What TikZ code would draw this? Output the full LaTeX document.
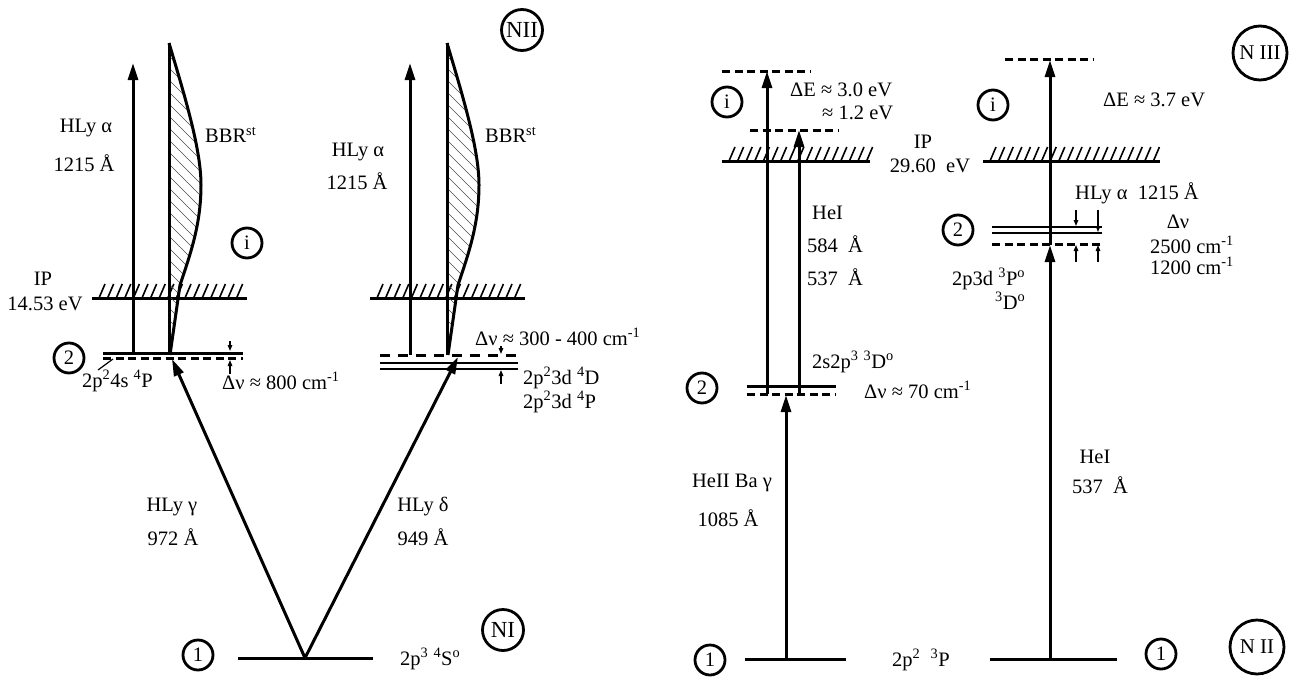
\documentclass[tikz,border=0pt]{standalone}
\usepackage{fontspec}
\setmainfont{Liberation Serif}
\usetikzlibrary{arrows.meta}
\newcommand\sps[1]{\textsuperscript{#1}}
\newcommand\hatchip[4]{%
  \draw[lvl] (#1,#3) -- (#2,#3);
  \foreach \i in {0,...,#4} \draw[line width=1.6pt] ({#1+7+8.6*\i},#3) -- ++(6,-14);
}
\newcommand\bbrpath[1]{(#1,43) .. controls ({#1+17},100) and ({#1+32},150) .. ({#1+32},185) .. controls ({#1+32},225) and ({#1+21},255) .. ({#1+11},285) -- ({#1+1},355) -- (#1,355) -- cycle}
\newcommand\bbr[1]{%
  \begin{scope}
    \clip \bbrpath{#1};
    \foreach \k in {0,...,36} \draw[line width=0.6pt, black!70] ({#1-20},{-60+12*\k}) -- ++(80,80);
  \end{scope}
  \draw[line width=3pt] (#1,43) -- (#1,355);
  \draw[line width=3pt,line join=round] (#1,43) .. controls ({#1+17},100) and ({#1+32},150) .. ({#1+32},185) .. controls ({#1+32},225) and ({#1+21},255) .. ({#1+11},285) -- ({#1+1},355);
}
\begin{document}
\begin{tikzpicture}[x=1pt,y=-1pt,
  every node/.style={font=\fontsize{20.5}{22}\selectfont, inner sep=0pt},
  lvl/.style={line width=3pt},
  dlvl/.style={line width=3pt, dash pattern=on 8pt off 4.5pt},
  arr/.style={line width=3pt, -{Triangle[length=17pt,width=10pt]}},
  sarr/.style={line width=1.3pt, -{Triangle[length=6pt,width=4.5pt]}},
  circ/.style={circle, draw, line width=2.8pt, minimum size=30pt, inner sep=0pt},
  bigc/.style={circle, draw, line width=2.8pt, minimum size=41pt, inner sep=0pt, font=\fontsize{23}{24}\selectfont},
  hugec/.style={circle, draw, line width=2.8pt, minimum size=54pt, inner sep=0pt, font=\fontsize{21}{22}\selectfont}]
\useasboundingbox[fill=white] (0,0) rectangle (1292,677);

% ================= Left panel (N I -> N II) =================
\coordinate (l1a) at (238,658); \coordinate (l1b) at (373,658); \coordinate (v) at (305,658);
\draw[lvl] (l1a) -- (l1b);
\node[circ] (c1L) at (198,655) {1};
\node[anchor=west] (t2p3) at (400,659) {2p\sps{3} \sps{4}S\sps{o}};
\node[bigc] (NI) at (503,630) {NI};

\coordinate (a2a) at (103,353); \coordinate (a2b) at (243,353);
\coordinate (a2c) at (103,358); \coordinate (a2d) at (243,358);
\draw[lvl] (a2a) -- (a2b);
\draw[dlvl] (a2c) -- (a2d);
\node[circ] (c2L) at (69,358) {2};
\node[anchor=west] (t24s) at (82,381) {2p\sps{2}4s \sps{4}P};
\coordinate (ldA) at (98,370); \coordinate (ldB) at (113,359);
\draw[line width=1.2pt] (ldA) -- (ldB);
\coordinate (sa1) at (230,341); \coordinate (sa1e) at (230,351);
\coordinate (sa2) at (230,374); \coordinate (sa2e) at (230,360);
\draw[sarr] (sa1) -- (sa1e);
\draw[sarr] (sa2) -- (sa2e);
\node[anchor=west] (dn800) at (222,381) {Δν ≈ 800 cm\sps{-1}};

\hatchip{92}{247}{298}{16}
\node (ipL) at (43,279) {IP};
\node (ipLv) at (45,304) {14.53 eV};

\coordinate (hA0) at (133,353); \coordinate (hA1) at (133,63);
\draw[arr] (hA0) -- (hA1);
\node (hlyaL) at (86,128) {HLy α};
\node (hlyaLw) at (84,163) {1215 Å};
\bbr{169}
\node[anchor=west] (bbrL) at (205,135) {BBR\sps{st}};
\node[circ] (ciL) at (247,243) {i};

\coordinate (gT) at (172,359);
\draw[arr] (v) -- (gT);
\node (hlyg) at (172,507) {HLy γ};
\node (hlygw) at (173,537) {972 Å};
\coordinate (dT) at (458,357);
\draw[arr] (v) -- (dT);
\node (hlyd) at (423,507) {HLy δ};
\node (hlydw) at (423,537) {949 Å};

% ================= Middle panel (N II) =================
\node[bigc] (NII) at (522,30) {NII};
\coordinate (m2a) at (380,355); \coordinate (m2b) at (518,355);
\coordinate (m2c) at (380,363); \coordinate (m2d) at (518,363);
\coordinate (m2e) at (380,369); \coordinate (m2f) at (518,369);
\draw[dlvl, dash pattern=on 10pt off 8pt] (m2a) -- (m2b);
\draw[line width=2.6pt] (m2c) -- (m2d);
\draw[line width=2.6pt] (m2e) -- (m2f);
\coordinate (mb1) at (501,346); \coordinate (mb1e) at (501,354);
\coordinate (mb2) at (501,384); \coordinate (mb2e) at (501,370);
\draw[sarr] (mb1) -- (mb1e);
\draw[sarr] (mb2) -- (mb2e);
\node[anchor=west] (dn300) at (475,337) {Δν ≈ 300 - 400 cm\sps{-1}};
\node[anchor=west] (t4D) at (523,378) {2p\sps{2}3d \sps{4}D};
\node[anchor=west] (t4P) at (523,402) {2p\sps{2}3d \sps{4}P};

\hatchip{370}{525}{298}{16}
\coordinate (hM0) at (410,355); \coordinate (hM1) at (410,63);
\draw[arr] (hM0) -- (hM1);
\node (hlyaM) at (358,152) {HLy α};
\node (hlyaMw) at (357,181) {1215 Å};
\bbr{447}
\node[anchor=west] (bbrM) at (485,135) {BBR\sps{st}};

% ================= Right-middle panel (N II -> N III) =================
\coordinate (r1a) at (745,659); \coordinate (r1b) at (846,659);
\draw[lvl] (r1a) -- (r1b);
\node[circ] (c1R) at (710,660) {1};
\node[anchor=west] (t2p2) at (892,660) {2p\sps{2}\ \ \sps{3}P};

\coordinate (r2a) at (747,386); \coordinate (r2b) at (836,386);
\coordinate (r2c) at (747,394); \coordinate (r2d) at (836,394);
\draw[lvl] (r2a) -- (r2b);
\draw[dlvl] (r2c) -- (r2d);
\node[circ] (c2R) at (702,388) {2};
\node[anchor=west] (t2s2p) at (812,362) {2s2p\sps{3} \sps{3}D\sps{o}};
\node[anchor=west] (dn70) at (864,390) {Δν ≈ 70 cm\sps{-1}};

\coordinate (hb0) at (786,659); \coordinate (hb1) at (786,395);
\draw[arr] (hb0) -- (hb1);
\node (heii) at (732,483) {HeII Ba γ};
\node (heiiw) at (728,518) {1085 Å};

\hatchip{722}{870}{161}{16}
\node (ipR) at (923,142) {IP};
\node (ipRv) at (930,166) {29.60\ \ eV};

\coordinate (rd1a) at (722,71); \coordinate (rd1b) at (810,71);
\draw[dlvl] (rd1a) -- (rd1b);
\coordinate (rd2a) at (750,130); \coordinate (rd2b) at (838,130);
\draw[dlvl] (rd2a) -- (rd2b);
\coordinate (x1a) at (767,394); \coordinate (x1b) at (767,71);
\draw[arr] (x1a) -- (x1b);
\coordinate (x2a) at (799,394); \coordinate (x2b) at (799,130);
\draw[arr] (x2a) -- (x2b);
\node[circ] (ciR) at (727,102) {i};
\node[anchor=west] (dE30) at (790,90) {ΔE ≈ 3.0 eV};
\node[anchor=west] (dE12) at (822,113) {≈ 1.2 eV};
\node[anchor=west] (hei1) at (812,213) {HeI};
\node[anchor=west] (w584) at (807,244) {584\ \ Å};
\node[anchor=west] (w537) at (807,277) {537\ \ Å};

% ================= Right panel (N III) =================
\coordinate (s1a) at (990,659); \coordinate (s1b) at (1117,659);
\draw[lvl] (s1a) -- (s1b);
\node[circ] (c1S) at (1161,654) {1};
\node[hugec] (NIIb) at (1257,647) {N II};
\node[hugec] (NIII) at (1260,53) {N III};

\coordinate (s2a) at (992,227); \coordinate (s2b) at (1102,227);
\coordinate (s2c) at (992,233); \coordinate (s2d) at (1102,233);
\coordinate (s2e) at (992,244); \coordinate (s2f) at (1102,244);
\draw[line width=2.8pt] (s2a) -- (s2b);
\draw[line width=2pt] (s2c) -- (s2d);
\draw[dlvl] (s2e) -- (s2f);
\node[circ] (c2S) at (958,230) {2};

\coordinate (sd1a) at (1005,60); \coordinate (sd1b) at (1093,60);
\draw[dlvl] (sd1a) -- (sd1b);
\hatchip{983}{1160}{161}{19}

\coordinate (y0) at (1050,659); \coordinate (y1) at (1050,245); \coordinate (y2) at (1050,60);
\draw[arr] (y0) -- (y1);
\draw[arr] (y1) -- (y2);

\coordinate (q1) at (1076,210); \coordinate (q1e) at (1076,226);
\coordinate (q2) at (1098,210); \coordinate (q2e) at (1098,232);
\coordinate (q3) at (1076,262); \coordinate (q3e) at (1076,245);
\coordinate (q4) at (1098,262); \coordinate (q4e) at (1098,245);
\draw[sarr] (q1) -- (q1e);
\draw[sarr] (q2) -- (q2e);
\draw[sarr] (q3) -- (q3e);
\draw[sarr] (q4) -- (q4e);

\node[circ] (ciS) at (993,105) {i};
\node[anchor=west] (dE37) at (1103,100) {ΔE ≈ 3.7 eV};
\node[anchor=west] (hlyaS) at (1075,193) {HLy α\ \ 1215 Å};
\node (dnS) at (1178,222) {Δν};
\node[anchor=west] (w2500) at (1150,245) {2500 cm\sps{-1}};
\node[anchor=west] (w1200) at (1150,266) {1200 cm\sps{-1}};
\node[anchor=west] (t3P) at (952,279) {2p3d \sps{3}P\sps{o}};
\node[anchor=west] (t3D) at (995,301) {\sps{3}D\sps{o}};
\node (hei2) at (1095,457) {HeI};
\node (w537b) at (1100,485) {537\ \ Å};
\end{tikzpicture}
\end{document}
